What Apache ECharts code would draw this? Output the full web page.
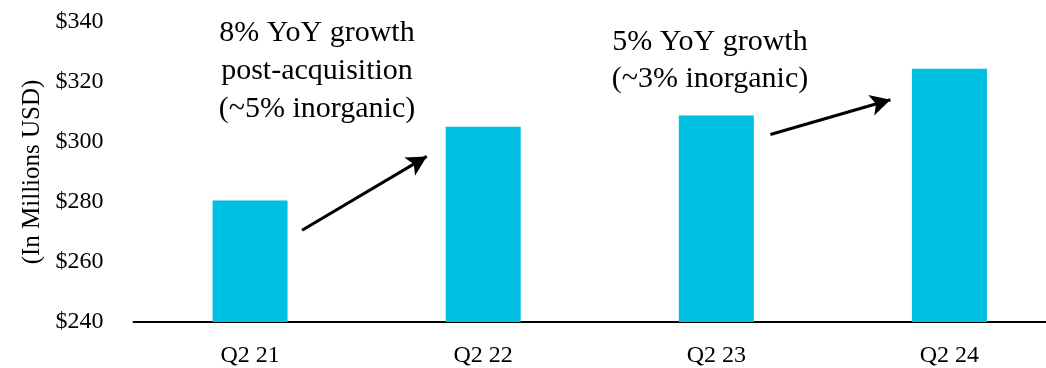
<!DOCTYPE html>
<html>
<head>
<meta charset="utf-8">
<style>
  html, body { margin: 0; padding: 0; background: #fff; overflow: hidden; }
  #chart { width: 1066px; height: 368px; }
</style>
<script src="https://cdn.jsdelivr.net/npm/echarts@6/dist/echarts.min.js"></script>
</head>
<body>
<div id="chart"></div>
<script>
// Quarterly revenue, in millions of USD
const quarters = ['Q2 21', 'Q2 22', 'Q2 23', 'Q2 24'];
const revenue = [280.5, 305.1, 308.8, 324.4];
const yTicks = [240, 260, 280, 300, 320, 340];

// Growth arrows: [start, end] as [category position, value]
const growthArrows = [
  [[0.223, 270.6], [0.758, 295.2]],
  [[2.232, 302.5], [2.747, 314.1]]
];
const growthNotes = [
  '8% YoY growth\npost-acquisition\n(~5% inorganic)',
  '5% YoY growth\n(~3% inorganic)'
];

const FONT = '"Liberation Serif", "DejaVu Serif", serif';

const chart = echarts.init(document.getElementById('chart'), null, { renderer: 'canvas' });

chart.setOption({
  animation: false,
  backgroundColor: '#ffffff',
  grid: { left: 133.5, right: 0, top: 22, bottom: 45, containLabel: false },
  xAxis: [
    {
      type: 'category',
      data: quarters,
      axisLine: { show: true, lineStyle: { color: '#000', width: 2 } },
      axisTick: { show: false },
      axisLabel: { color: '#000', fontFamily: FONT, fontSize: 24, margin: 22 }
    },
    {
      type: 'value',
      min: -0.5,
      max: 3.5,
      show: false
    }
  ],
  yAxis: {
    type: 'value',
    min: yTicks[0],
    max: yTicks[yTicks.length - 1],
    interval: yTicks[1] - yTicks[0],
    name: '(In Millions USD)',
    nameLocation: 'middle',
    nameGap: 88,
    nameTextStyle: { color: '#000', fontFamily: FONT, fontSize: 25 },
    axisLine: { show: false },
    axisTick: { show: false },
    splitLine: { show: false },
    axisLabel: {
      color: '#000',
      fontFamily: FONT,
      fontSize: 24,
      margin: 30,
      formatter: v => '$' + v
    }
  },
  series: [
    {
      type: 'bar',
      data: revenue,
      barWidth: 75,
      itemStyle: { color: '#00C0E2' }
    },
    {
      type: 'line',
      xAxisIndex: 1,
      data: [],
      silent: true,
      markLine: {
        silent: true,
        symbol: ['none', 'arrow'],
        symbolSize: [16, 20],
        label: { show: false },
        lineStyle: { color: '#000', width: 3, type: 'solid' },
        data: growthArrows.map(a => [{ coord: a[0] }, { coord: a[1] }])
      }
    }
  ],
  graphic: [
    {
      type: 'text',
      x: 317,
      y: 14,
      style: {
        text: growthNotes[0],
        font: '30px ' + FONT,
        fill: '#000',
        textAlign: 'center',
        lineHeight: 38
      }
    },
    {
      type: 'text',
      x: 710,
      y: 24,
      style: {
        text: growthNotes[1],
        font: '30px ' + FONT,
        fill: '#000',
        textAlign: 'center',
        lineHeight: 37
      }
    }
  ]
});
</script>
</body>
</html>
